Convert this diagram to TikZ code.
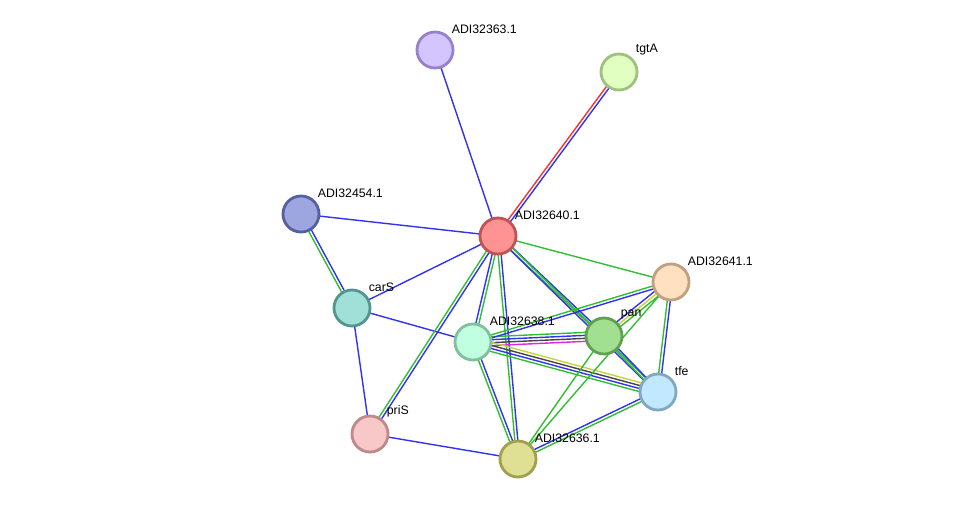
\documentclass[tikz,border=0pt]{standalone}
\usepackage{fontspec}
\setmainfont{Liberation Sans}
\usetikzlibrary{calc,backgrounds}

\definecolor{lgreen}{RGB}{50,190,50}
\definecolor{lblue}{RGB}{50,50,240}
\definecolor{lred}{RGB}{250,50,50}
\definecolor{lyellow}{RGB}{200,210,60}
\definecolor{lblack}{RGB}{70,70,70}
\definecolor{lmagenta}{RGB}{220,40,220}

% protein colours: border / fill
\definecolor{d363}{RGB}{150,130,200}\definecolor{f363}{RGB}{212,196,255}
\definecolor{dtgt}{RGB}{160,192,128}\definecolor{ftgt}{RGB}{226,255,194}
\definecolor{d454}{RGB}{84,96,160}\definecolor{f454}{RGB}{158,166,224}
\definecolor{d640}{RGB}{192,84,84}\definecolor{f640}{RGB}{255,146,146}
\definecolor{d641}{RGB}{192,160,128}\definecolor{f641}{RGB}{255,224,192}
\definecolor{dcar}{RGB}{82,150,142}\definecolor{fcar}{RGB}{160,224,216}
\definecolor{d638}{RGB}{128,192,160}\definecolor{f638}{RGB}{192,255,224}
\definecolor{dpan}{RGB}{96,160,80}\definecolor{fpan}{RGB}{160,224,144}
\definecolor{dtfe}{RGB}{128,168,192}\definecolor{ftfe}{RGB}{194,232,255}
\definecolor{dpri}{RGB}{192,136,136}\definecolor{fpri}{RGB}{248,200,200}
\definecolor{d636}{RGB}{160,160,80}\definecolor{f636}{RGB}{224,224,148}

% parallel coloured lines between two proteins
\newcommand{\link}[3]{%
  \foreach \c [count=\i] in {#3} {\xdef\nlinks{\i}}%
  \foreach \c [count=\i] in {#3} {%
    \pgfmathsetmacro\off{(\i-(\nlinks+1)/2)*1.7}%
    \draw[line width=0.8pt,\c] ($(#1)!\off pt!90:(#2)$) -- ($(#2)!\off pt!-90:(#1)$);
  }}

\tikzset{
  prot/.style={circle,minimum size=20.5pt,inner sep=0pt,line width=1.6pt,draw=d#1,fill=f#1},
  lbl/.style={font=\fontsize{7}{8}\selectfont,inner sep=1pt,label distance=0.8pt}
}

\begin{document}
\begin{tikzpicture}[x=0.02cm,y=-0.02cm]
  \useasboundingbox (0,0) rectangle (976,504);
  \begin{scope}[every label/.style=lbl]
    \node[prot=363,label=45:ADI32363.1] (s363) at (435,50) {};
    \node[prot=tgt,label=45:tgtA] (tgtA) at (619,72) {};
    \node[prot=454,label=45:ADI32454.1] (s454) at (301,214) {};
    \node[prot=640,label=45:ADI32640.1] (s640) at (498,236) {};
    \node[prot=641,label=45:ADI32641.1] (s641) at (671,282) {};
    \node[prot=car,label=45:carS] (carS) at (352,308) {};
    \node[prot=638,label=45:ADI32638.1] (s638) at (473,342) {};
    \node[prot=pan,label=45:pan] (pan) at (604,336) {};
    \node[prot=tfe,label=45:tfe] (tfe) at (658,392) {};
    \node[prot=pri,label=45:priS] (priS) at (370,434) {};
    \node[prot=636,label=45:ADI32636.1] (s636) at (518,459) {};
  \end{scope}
  \begin{pgfonlayer}{background}
    \link{s363}{s640}{lblue}
    \link{tgtA}{s640}{lred,lblue}
    \link{s454}{s640}{lblue}
    \link{s454}{carS}{lgreen,lblue}
    \link{carS}{s640}{lblue}
    \link{carS}{s638}{lblue}
    \link{carS}{priS}{lblue}
    \link{priS}{s636}{lblue}
    \link{priS}{s640}{lblue,lgreen}
    \link{s640}{s641}{lgreen}
    \link{s640}{pan}{lgreen,lblue}
    \link{s640}{tfe}{lblue,lgreen}
    \link{s640}{s638}{lblue,lgreen}
    \link{s640}{s636}{lgreen,lblue}
    \link{s638}{pan}{lmagenta,lblack,lblue,lgreen}
    \link{s638}{tfe}{lgreen,lblue,lblack,lyellow}
    \link{s638}{s641}{lblue,lgreen}
    \link{s638}{s636}{lgreen,lblue}
    \link{pan}{s641}{lgreen,lyellow,lblue}
    \link{pan}{tfe}{lgreen,lblue}
    \link{pan}{s636}{lgreen}
    \link{s641}{s636}{lgreen}
    \link{s641}{tfe}{lgreen,lblue}
    \link{tfe}{s636}{lblue,lgreen}
  \end{pgfonlayer}
\end{tikzpicture}
\end{document}
